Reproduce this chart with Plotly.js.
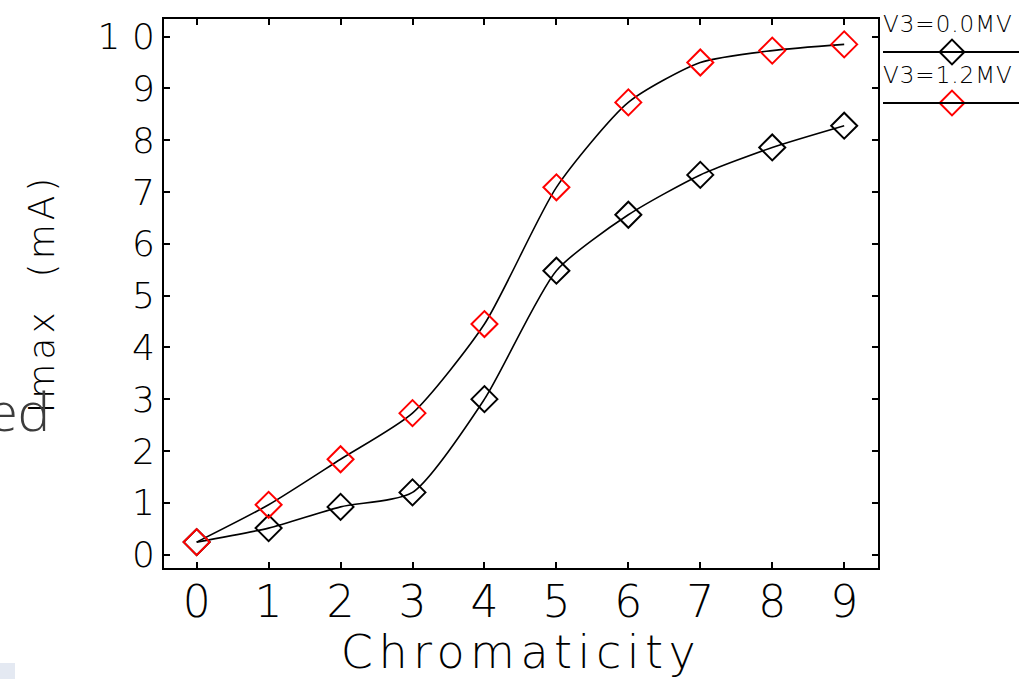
<!DOCTYPE html>
<html>
<head>
<meta charset="utf-8">
<script src="https://cdn.plot.ly/plotly-3.0.1.min.js"></script>
<style>
html,body{margin:0;padding:0;background:#fff;}
#chart{width:1019px;height:679px;}
</style>
</head>
<body>
<div id="chart"></div>
<script>
// ---- data ----
const chromaticity = [0, 1, 2, 3, 4, 5, 6, 7, 8, 9];
const imaxV3_0_0 = [0.24, 0.51, 0.92, 1.20, 3.00, 5.48, 6.56, 7.33, 7.86, 8.28];
const imaxV3_1_2 = [0.24, 0.96, 1.84, 2.73, 4.45, 7.09, 8.73, 9.50, 9.73, 9.85];
const seriesNames = ['V3=0.0MV', 'V3=1.2MV'];
const yTickVals = [0, 1, 2, 3, 4, 5, 6, 7, 8, 9, 10];
const yTickText = ['0', '1', '2', '3', '4', '5', '6', '7', '8', '9', '1 0'];
const xTickVals = [0, 1, 2, 3, 4, 5, 6, 7, 8, 9];

// ---- layout constants ----
const W = 1019, H = 679;
const plotL = 164, plotR = 878, plotT = 19, plotB = 568;
const FONT = '"DejaVu Sans", sans-serif';
const markerColors = ['#000000', '#ff0000'];

const traces = [
  {
    x: chromaticity, y: imaxV3_0_0, name: seriesNames[0], type: 'scatter', mode: 'lines',
    line: {color: '#000', width: 1.6, shape: 'spline', smoothing: 0.65}, showlegend: false, cliponaxis: false
  },
  {
    x: chromaticity, y: imaxV3_1_2, name: seriesNames[1], type: 'scatter', mode: 'lines',
    line: {color: '#000', width: 1.6, shape: 'spline', smoothing: 0.65}, showlegend: false, cliponaxis: false
  },
  {
    x: chromaticity, y: imaxV3_0_0, name: seriesNames[0], type: 'scatter', mode: 'markers',
    marker: {symbol: 'diamond-open', size: 20, color: markerColors[0], line: {width: 2, color: markerColors[0]}},
    showlegend: false, cliponaxis: false
  },
  {
    x: chromaticity, y: imaxV3_1_2, name: seriesNames[1], type: 'scatter', mode: 'markers',
    marker: {symbol: 'diamond-open', size: 20, color: markerColors[1], line: {width: 2, color: markerColors[1]}},
    showlegend: false, cliponaxis: false
  },
  // legend glyphs (pixel overlay axes)
  {
    x: [952, 952], y: [52, 103], xaxis: 'x2', yaxis: 'y2', type: 'scatter', mode: 'markers',
    marker: {symbol: 'diamond-open', size: 19, color: markerColors, line: {width: 2, color: markerColors}},
    showlegend: false, hoverinfo: 'skip', cliponaxis: false
  }
];

const layout = {
  width: W, height: H,
  margin: {l: 0, r: 0, t: 0, b: 0, pad: 0},
  paper_bgcolor: '#fff', plot_bgcolor: 'rgba(0,0,0,0)',
  showlegend: false,
  font: {family: FONT, color: '#000', weight: 200},
  xaxis: {
    domain: [plotL / W, plotR / W],
    range: [-0.454, 9.47],
    tickvals: xTickVals,
    ticks: 'inside', ticklen: 6, tickwidth: 2, tickcolor: '#000',
    ticklabelstandoff: -6,
    showline: true, linecolor: '#000', linewidth: 2, mirror: 'ticks',
    showgrid: false, zeroline: false,
    tickfont: {family: FONT, size: 44, color: '#000', weight: 200},
    title: {text: 'Chromaticity', font: {family: FONT, size: 46, color: '#000', weight: 200}, standoff: 10},
    automargin: false
  },
  yaxis: {
    domain: [(H - plotB) / H, (H - plotT) / H],
    range: [-0.26, 10.34],
    tickvals: yTickVals, ticktext: yTickText,
    ticks: 'inside', ticklen: 6, tickwidth: 2, tickcolor: '#000',
    showline: true, linecolor: '#000', linewidth: 2, mirror: 'ticks',
    showgrid: false, zeroline: false,
    tickfont: {family: FONT, size: 36, color: '#000', weight: 200},
    title: {text: 'Imax  (mA)', font: {family: FONT, size: 36, color: '#000', weight: 200}, standoff: 32},
    automargin: false
  },
  xaxis2: {domain: [0, 1], range: [0, W], visible: false, fixedrange: true, anchor: 'y2'},
  yaxis2: {domain: [0, 1], range: [H, 0], visible: false, fixedrange: true, anchor: 'x2'},
  shapes: [
    {type: 'line', xref: 'x2', yref: 'y2', x0: 883, x1: 1019, y0: 52, y1: 52, line: {color: '#000', width: 2}},
    {type: 'line', xref: 'x2', yref: 'y2', x0: 883, x1: 1019, y0: 103, y1: 103, line: {color: '#000', width: 2}},
    {type: 'rect', xref: 'x2', yref: 'y2', x0: 0, x1: 15, y0: 663, y1: 679, fillcolor: '#e4e9f2', line: {width: 0}, layer: 'below'}
  ],
  annotations: [
    {xref: 'x2', yref: 'y2', x: 885, y: 39, xanchor: 'left', yanchor: 'bottom', showarrow: false,
     text: seriesNames[0], font: {family: FONT, size: 23, color: '#000', weight: 200}},
    {xref: 'x2', yref: 'y2', x: 885, y: 90, xanchor: 'left', yanchor: 'bottom', showarrow: false,
     text: seriesNames[1], font: {family: FONT, size: 23, color: '#000', weight: 200}},
    {xref: 'x2', yref: 'y2', x: 52, y: 410, xanchor: 'right', yanchor: 'middle', showarrow: false,
     text: 'ed', font: {family: '"Open Sans", sans-serif', size: 54, color: '#3c3c3c'}}
  ]
};

Plotly.newPlot('chart', traces, layout, {displayModeBar: false, staticPlot: true}).then(function () {
  document.querySelectorAll('.xtitle').forEach(function (e) { e.style.letterSpacing = '5.5px'; });
  document.querySelectorAll('.ytitle').forEach(function (e) { e.style.letterSpacing = '4px'; });
  document.querySelectorAll('.annotation-text').forEach(function (e) {
    if (e.textContent.indexOf('V3') === 0) { e.style.letterSpacing = '1px'; }
  });
});
</script>
</body>
</html>
